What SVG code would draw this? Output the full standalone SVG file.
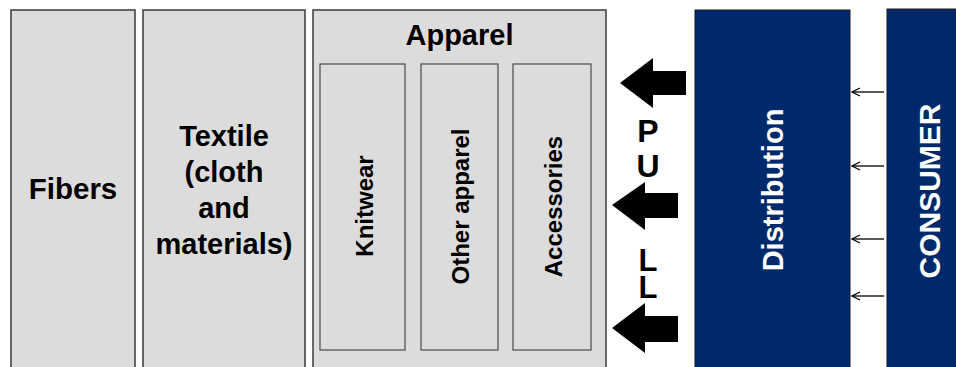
<svg xmlns="http://www.w3.org/2000/svg" width="956" height="367" viewBox="0 0 956 367">
<style>
.box{fill:#dcdcdc;stroke:#3a3a3a;stroke-width:1.5}
.inner{fill:#dcdcdc;stroke:#4a4a4a;stroke-width:1.2}
.navy{fill:#00296b;stroke:#1a1a1a;stroke-width:1}
.t{font-family:"Liberation Sans",Arial,sans-serif;font-weight:bold;fill:#000;text-anchor:middle}
.w{fill:#fff}
.big{fill:#000}
.small{stroke:#000;stroke-width:1.3;fill:none}
</style>
<defs>
<marker id="open" viewBox="0 0 10 10" refX="9" refY="5" markerWidth="10" markerHeight="10" markerUnits="userSpaceOnUse" orient="auto">
<path d="M1,1 L9,5 L1,9" fill="none" stroke="#000" stroke-width="1.2"/>
</marker>
</defs>
<rect width="956" height="367" fill="#fff"/>
<g id="fibers">
<rect class="box" x="11" y="10" width="124" height="370"/>
<text class="t" x="73" y="199" font-size="29.5">Fibers</text>
</g>
<g id="textile">
<rect class="box" x="143" y="10" width="162" height="370"/>
<text class="t" x="224" y="146" font-size="29">Textile</text>
<text class="t" x="224" y="182" font-size="29">(cloth</text>
<text class="t" x="224" y="218" font-size="29">and</text>
<text class="t" x="224" y="254" font-size="29">materials)</text>
</g>
<g id="apparel">
<rect class="box" x="313" y="10" width="293" height="370"/>
<text class="t" x="459.5" y="45" font-size="29">Apparel</text>
</g>
<g id="knitwear">
<rect class="inner" x="320" y="64" width="85" height="286"/>
<text class="t" transform="translate(373,206) rotate(-90)" font-size="24">Knitwear</text>
</g>
<g id="other-apparel">
<rect class="inner" x="421" y="64" width="77" height="286"/>
<text class="t" transform="translate(469,206.5) rotate(-90)" font-size="24">Other apparel</text>
</g>
<g id="accessories">
<rect class="inner" x="513" y="64" width="78" height="286"/>
<text class="t" transform="translate(562,206.5) rotate(-90)" font-size="24">Accessories</text>
</g>
<g id="distribution">
<rect class="navy" x="695" y="10" width="155" height="370"/>
<text class="t w" transform="translate(783,190) rotate(-90)" font-size="29">Distribution</text>
</g>
<g id="consumer">
<rect class="navy" x="887" y="9" width="85" height="370"/>
<text class="t w" transform="translate(940,191) rotate(-90)" font-size="30">CONSUMER</text>
</g>
<g id="pull">
<text class="t" x="648" y="142" font-size="32">P</text>
<text class="t" x="648" y="177" font-size="32">U</text>
<text class="t" x="648" y="271" font-size="31">L</text>
<text class="t" x="648" y="298" font-size="31">L</text>
</g>
<g id="connectors">
<polygon class="big" points="620,83 653,58 653,71 686,71 686,95 653,95 653,108"/>
<polygon class="big" points="612,205 645,182 645,193 678,193 678,218 645,218 645,230"/>
<polygon class="big" points="612,328 645,303 645,316 678,316 678,342 645,342 645,353"/>
<line class="small" x1="884" y1="92" x2="852" y2="92" marker-end="url(#open)"/>
<line class="small" x1="884" y1="166" x2="852" y2="166" marker-end="url(#open)"/>
<line class="small" x1="884" y1="239" x2="852" y2="239" marker-end="url(#open)"/>
<line class="small" x1="884" y1="296" x2="852" y2="296" marker-end="url(#open)"/>
</g>
</svg>
